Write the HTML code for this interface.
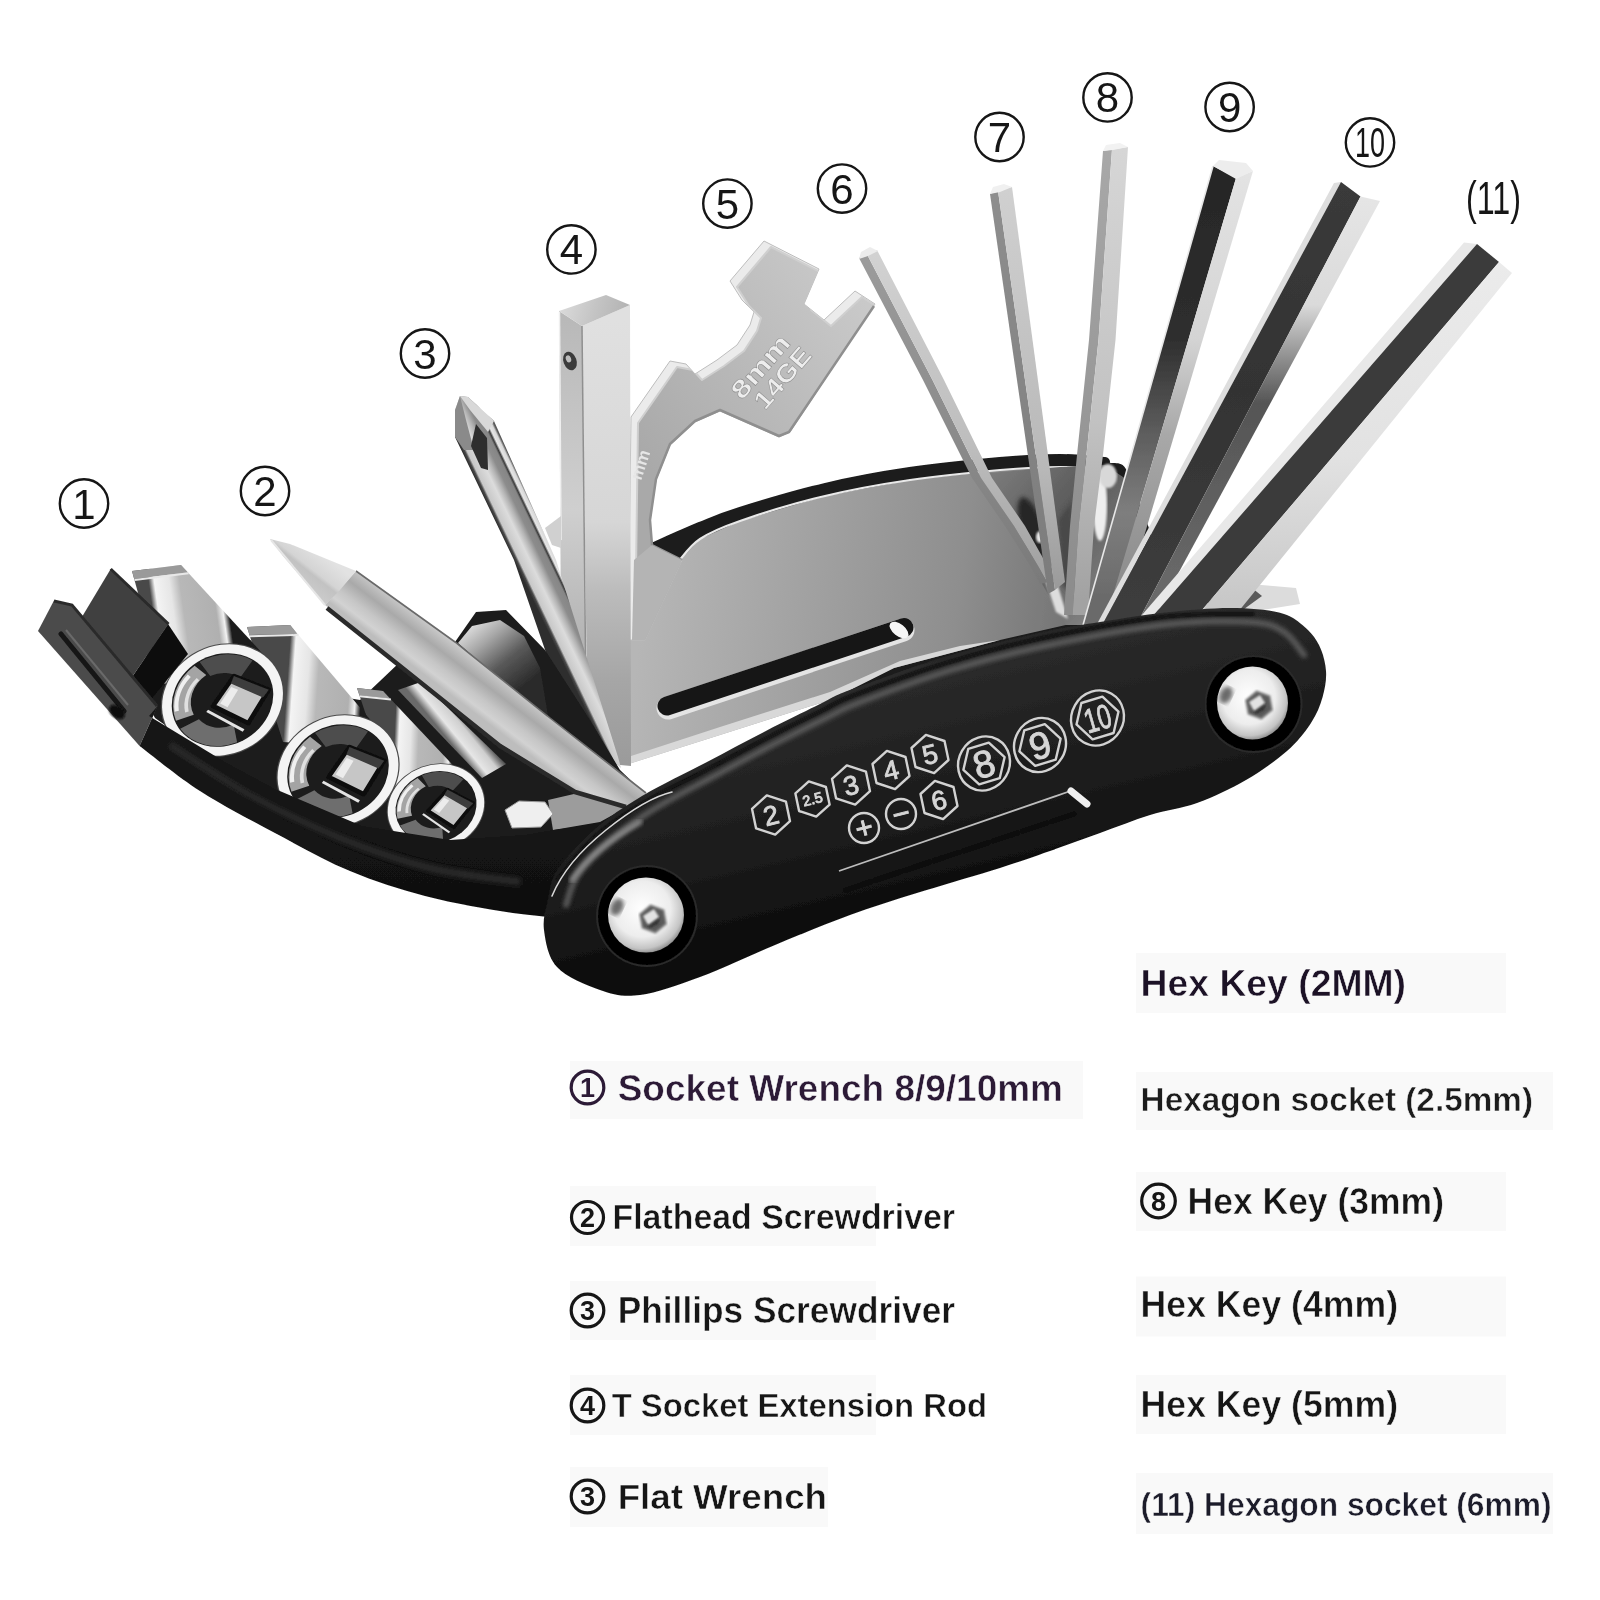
<!DOCTYPE html>
<html><head><meta charset="utf-8"><title>Multi tool</title>
<style>html,body{margin:0;padding:0;background:#fff}svg{display:block}</style></head>
<body>
<svg width="1600" height="1600" viewBox="0 0 1600 1600">
<defs>
<filter id="b1" x="-5%" y="-5%" width="110%" height="110%"><feGaussianBlur stdDeviation="1"/></filter>
<filter id="b2" x="-5%" y="-5%" width="110%" height="110%"><feGaussianBlur stdDeviation="2"/></filter>
<filter id="soft" x="-2%" y="-2%" width="104%" height="104%"><feGaussianBlur stdDeviation="0.7"/></filter>
<linearGradient id="gPlate" gradientUnits="userSpaceOnUse" x1="650.0" y1="560.0" x2="1090.0" y2="620.0"><stop offset="0" stop-color="#b6b6b6"/><stop offset="0.35" stop-color="#a2a2a2"/><stop offset="0.7" stop-color="#8e8e8e"/><stop offset="1" stop-color="#707070"/></linearGradient>
<linearGradient id="gInt" gradientUnits="userSpaceOnUse" x1="990.0" y1="480.0" x2="1130.0" y2="600.0"><stop offset="0" stop-color="#7a7a7a"/><stop offset="0.4" stop-color="#5c5c5c"/><stop offset="0.7" stop-color="#6e6e6e"/><stop offset="1" stop-color="#8a8a8a"/></linearGradient>
<linearGradient id="k6a" gradientUnits="userSpaceOnUse" x1="0.0" y1="250.0" x2="0.0" y2="580.0"><stop offset="0" stop-color="#9c9c9c"/><stop offset="0.6" stop-color="#8a8a8a"/><stop offset="1" stop-color="#7a7a7a"/></linearGradient>
<linearGradient id="k6b" gradientUnits="userSpaceOnUse" x1="0.0" y1="250.0" x2="0.0" y2="580.0"><stop offset="0" stop-color="#d2d2d2"/><stop offset="0.6" stop-color="#bdbdbd"/><stop offset="1" stop-color="#a0a0a0"/></linearGradient>
<linearGradient id="k7a" gradientUnits="userSpaceOnUse" x1="0.0" y1="190.0" x2="0.0" y2="590.0"><stop offset="0" stop-color="#8e8e8e"/><stop offset="1" stop-color="#7c7c7c"/></linearGradient>
<linearGradient id="k7b" gradientUnits="userSpaceOnUse" x1="0.0" y1="190.0" x2="0.0" y2="590.0"><stop offset="0" stop-color="#d0d0d0"/><stop offset="0.7" stop-color="#b8b8b8"/><stop offset="1" stop-color="#9a9a9a"/></linearGradient>
<linearGradient id="k8a" gradientUnits="userSpaceOnUse" x1="0.0" y1="150.0" x2="0.0" y2="600.0"><stop offset="0" stop-color="#a8a8a8"/><stop offset="1" stop-color="#8c8c8c"/></linearGradient>
<linearGradient id="k8b" gradientUnits="userSpaceOnUse" x1="0.0" y1="150.0" x2="0.0" y2="600.0"><stop offset="0" stop-color="#d6d6d6"/><stop offset="0.6" stop-color="#c2c2c2"/><stop offset="1" stop-color="#a2a2a2"/></linearGradient>
<linearGradient id="k9a" gradientUnits="userSpaceOnUse" x1="0.0" y1="165.0" x2="0.0" y2="600.0"><stop offset="0" stop-color="#262626"/><stop offset="0.4" stop-color="#2e2e2e"/><stop offset="0.62" stop-color="#5e5e5e"/><stop offset="0.8" stop-color="#7e7e7e"/><stop offset="1" stop-color="#6a6a6a"/></linearGradient>
<linearGradient id="k9b" gradientUnits="userSpaceOnUse" x1="0.0" y1="165.0" x2="0.0" y2="600.0"><stop offset="0" stop-color="#e4e4e4"/><stop offset="0.4" stop-color="#d4d4d4"/><stop offset="0.62" stop-color="#a8a8a8"/><stop offset="1" stop-color="#8a8a8a"/></linearGradient>
<linearGradient id="k10a" gradientUnits="userSpaceOnUse" x1="0.0" y1="183.0" x2="0.0" y2="600.0"><stop offset="0" stop-color="#3a3a3a"/><stop offset="0.5" stop-color="#333"/><stop offset="1" stop-color="#3c3c3c"/></linearGradient>
<linearGradient id="k10b" gradientUnits="userSpaceOnUse" x1="0.0" y1="190.0" x2="0.0" y2="600.0"><stop offset="0" stop-color="#e6e6e6"/><stop offset="0.28" stop-color="#dadada"/><stop offset="0.42" stop-color="#8a8a8a"/><stop offset="0.52" stop-color="#555"/><stop offset="1" stop-color="#6a6a6a"/></linearGradient>
<linearGradient id="k11b" gradientUnits="userSpaceOnUse" x1="0.0" y1="242.0" x2="0.0" y2="600.0"><stop offset="0" stop-color="#ececec"/><stop offset="0.6" stop-color="#e2e2e2"/><stop offset="1" stop-color="#c8c8c8"/></linearGradient>
<linearGradient id="gWr" gradientUnits="userSpaceOnUse" x1="640.0" y1="460.0" x2="860.0" y2="300.0"><stop offset="0" stop-color="#a9a9a9"/><stop offset="0.5" stop-color="#b9b9b9"/><stop offset="1" stop-color="#c9c9c9"/></linearGradient>
<clipPath id="cWr"><polygon points="631.0,417.0 670.0,361.0 686.0,364.0 695.0,374.0 717.0,360.0 737.0,345.0 750.0,325.0 754.0,312.0 742.0,300.0 730.0,281.0 764.0,241.0 819.0,269.0 804.0,304.0 824.0,320.0 855.0,291.0 875.0,304.0 790.0,432.0 779.0,437.0 720.0,411.0 695.0,422.0 670.0,445.0 656.0,480.0 650.0,520.0 652.0,545.0 682.0,560.0 645.0,640.0 628.0,640.0"/></clipPath>
<linearGradient id="gRodF" gradientUnits="userSpaceOnUse" x1="0.0" y1="320.0" x2="0.0" y2="770.0"><stop offset="0" stop-color="#e0e0e0"/><stop offset="0.45" stop-color="#d6d6d6"/><stop offset="0.6" stop-color="#bcbcbc"/><stop offset="0.8" stop-color="#a6a6a6"/><stop offset="1" stop-color="#9a9a9a"/></linearGradient>
<linearGradient id="gRodL" gradientUnits="userSpaceOnUse" x1="0.0" y1="320.0" x2="0.0" y2="700.0"><stop offset="0" stop-color="#b9b9b9"/><stop offset="0.5" stop-color="#cfcfcf"/><stop offset="1" stop-color="#a8a8a8"/></linearGradient>
<linearGradient id="gRodT" gradientUnits="userSpaceOnUse" x1="560.0" y1="300.0" x2="630.0" y2="320.0"><stop offset="0" stop-color="#dcdcdc"/><stop offset="0.5" stop-color="#c4c4c4"/><stop offset="1" stop-color="#b0b0b0"/></linearGradient>
<linearGradient id="gPh" gradientUnits="userSpaceOnUse" x1="514.0" y1="560.0" x2="550.5" y2="542.6"><stop offset="0" stop-color="#2e2e2e"/><stop offset="0.06" stop-color="#4a4a4a"/><stop offset="0.11" stop-color="#c8c8c8"/><stop offset="0.35" stop-color="#dcdcdc"/><stop offset="0.5" stop-color="#b4b4b4"/><stop offset="0.62" stop-color="#8c8c8c"/><stop offset="0.77" stop-color="#868686"/><stop offset="0.82" stop-color="#3a3a3a"/><stop offset="0.87" stop-color="#e6e6e6"/><stop offset="0.95" stop-color="#d8d8d8"/><stop offset="1" stop-color="#5a5a5a"/></linearGradient>
<linearGradient id="gSp" gradientUnits="userSpaceOnUse" x1="470.0" y1="628.0" x2="520.0" y2="690.0"><stop offset="0" stop-color="#d9d9d9"/><stop offset="0.25" stop-color="#a8a8a8"/><stop offset="0.6" stop-color="#5a5a5a"/><stop offset="1" stop-color="#2a2a2a"/></linearGradient>
<linearGradient id="gR4" gradientUnits="userSpaceOnUse" x1="440.0" y1="730.0" x2="462.0" y2="712.0"><stop offset="0" stop-color="#6a6a6a"/><stop offset="0.3" stop-color="#e6e6e6"/><stop offset="0.7" stop-color="#cfcfcf"/><stop offset="1" stop-color="#555"/></linearGradient>
<linearGradient id="s3b" gradientUnits="userSpaceOnUse" x1="392.0" y1="792.0" x2="482.0" y2="796.0"><stop offset="0" stop-color="#4a4a4a"/><stop offset="0.05" stop-color="#f4f4f4"/><stop offset="0.18" stop-color="#e6e6e6"/><stop offset="0.27" stop-color="#b8b8b8"/><stop offset="0.55" stop-color="#b0b0b0"/><stop offset="0.61" stop-color="#f2f2f2"/><stop offset="0.66" stop-color="#1e1e1e"/><stop offset="0.9" stop-color="#1c1c1c"/><stop offset="0.95" stop-color="#8a8a8a"/><stop offset="1" stop-color="#3a3a3a"/></linearGradient>
<linearGradient id="s2b" gradientUnits="userSpaceOnUse" x1="283.0" y1="742.0" x2="396.0" y2="750.0"><stop offset="0" stop-color="#4a4a4a"/><stop offset="0.05" stop-color="#f4f4f4"/><stop offset="0.18" stop-color="#e6e6e6"/><stop offset="0.27" stop-color="#b8b8b8"/><stop offset="0.55" stop-color="#b0b0b0"/><stop offset="0.61" stop-color="#f2f2f2"/><stop offset="0.66" stop-color="#1e1e1e"/><stop offset="0.9" stop-color="#1c1c1c"/><stop offset="0.95" stop-color="#8a8a8a"/><stop offset="1" stop-color="#3a3a3a"/></linearGradient>
<linearGradient id="s1b" gradientUnits="userSpaceOnUse" x1="163.0" y1="684.0" x2="276.0" y2="668.0"><stop offset="0" stop-color="#4a4a4a"/><stop offset="0.05" stop-color="#f4f4f4"/><stop offset="0.18" stop-color="#e6e6e6"/><stop offset="0.27" stop-color="#b8b8b8"/><stop offset="0.55" stop-color="#b0b0b0"/><stop offset="0.61" stop-color="#f2f2f2"/><stop offset="0.66" stop-color="#1e1e1e"/><stop offset="0.9" stop-color="#1c1c1c"/><stop offset="0.95" stop-color="#8a8a8a"/><stop offset="1" stop-color="#3a3a3a"/></linearGradient>
<linearGradient id="gArm" gradientUnits="userSpaceOnUse" x1="0.0" y1="600.0" x2="0.0" y2="960.0"><stop offset="0" stop-color="#1c1c1c"/><stop offset="0.5" stop-color="#151515"/><stop offset="1" stop-color="#0e0e0e"/></linearGradient>
<linearGradient id="gFl" gradientUnits="userSpaceOnUse" x1="468.0" y1="708.0" x2="500.0" y2="666.0"><stop offset="0" stop-color="#bdbdbd"/><stop offset="0.12" stop-color="#d2d2d2"/><stop offset="0.3" stop-color="#c6c6c6"/><stop offset="0.55" stop-color="#a9a9a9"/><stop offset="0.8" stop-color="#c6c6c6"/><stop offset="0.93" stop-color="#dadada"/><stop offset="1" stop-color="#b0b0b0"/></linearGradient>
<linearGradient id="gFt" gradientUnits="userSpaceOnUse" x1="330.0" y1="560.0" x2="305.0" y2="592.0"><stop offset="0" stop-color="#e2e2e2"/><stop offset="0.45" stop-color="#d4d4d4"/><stop offset="0.55" stop-color="#c2c2c2"/><stop offset="1" stop-color="#cdcdcd"/></linearGradient>
<linearGradient id="gFP" gradientUnits="userSpaceOnUse" x1="900.0" y1="640.0" x2="960.0" y2="900.0"><stop offset="0" stop-color="#0e0e0e"/><stop offset="0.12" stop-color="#2b2b2b"/><stop offset="0.3" stop-color="#262626"/><stop offset="0.7" stop-color="#1a1a1a"/><stop offset="1" stop-color="#0c0c0c"/></linearGradient>
<radialGradient id="sc1" cx="0.45" cy="0.42" r="0.62"><stop offset="0" stop-color="#ffffff"/><stop offset="0.6" stop-color="#ededed"/><stop offset="0.85" stop-color="#c4c4c4"/><stop offset="1" stop-color="#7a7a7a"/></radialGradient>
<radialGradient id="sc2" cx="0.45" cy="0.42" r="0.62"><stop offset="0" stop-color="#ffffff"/><stop offset="0.6" stop-color="#ededed"/><stop offset="0.85" stop-color="#c4c4c4"/><stop offset="1" stop-color="#7a7a7a"/></radialGradient>
</defs>
<rect width="1600" height="1600" fill="#ffffff"/>
<g filter="url(#soft)">
<g id="plates-keys"><path d="M652.0,548.0 C663.7,535.8 685.3,533.0 700.0,527.0 C714.7,521.0 719.2,518.5 740.0,512.0 C760.8,505.5 796.7,494.7 825.0,488.0 C853.3,481.3 880.8,476.3 910.0,472.0 C939.2,467.7 975.0,464.2 1000.0,462.0 C1025.0,459.8 1042.5,459.0 1060.0,459.0 C1077.5,459.0 1093.3,458.5 1105.0,462.0 C1116.7,465.5 1124.2,457.0 1130.0,480.0 C1135.8,503.0 1178.3,566.7 1140.0,600.0 C1101.7,633.3 973.3,660.0 900.0,680.0 C826.7,700.0 743.3,716.7 700.0,720.0 C656.7,723.3 651.7,720.0 640.0,700.0 C628.3,680.0 628.0,625.3 630.0,600.0 C632.0,574.7 640.3,560.2 652.0,548.0Z" fill="#1b1b1b"/>
<path d="M652.0,548.0 C660.0,544.5 685.3,533.0 700.0,527.0 C714.7,521.0 719.2,518.5 740.0,512.0 C760.8,505.5 796.7,494.7 825.0,488.0 C853.3,481.3 880.8,476.3 910.0,472.0 C939.2,467.7 975.0,464.2 1000.0,462.0 C1025.0,459.8 1042.5,459.0 1060.0,459.0 C1077.5,459.0 1097.5,461.5 1105.0,462.0" fill="none" stroke="#1b1b1b" stroke-width="10" stroke-linecap="round"/>
<path d="M678.0,562.0 L700.0,539.0 L740.0,521.0 L825.0,496.0 L910.0,480.0 L1000.0,470.0 L1060.0,467.0 L1100.0,470.0 L1120.0,520.0 L1110.0,615.0 L1000.0,640.0 L894.0,668.0 L830.0,700.0 L720.0,735.0 L627.0,764.5 L610.0,740.0 L630.0,640.0Z" fill="url(#gPlate)"/>
<path d="M678.0,562.0 C681.7,558.2 689.7,545.8 700.0,539.0 C710.3,532.2 719.2,528.2 740.0,521.0 C760.8,513.8 796.7,502.8 825.0,496.0 C853.3,489.2 880.8,484.3 910.0,480.0 C939.2,475.7 975.0,472.2 1000.0,470.0 C1025.0,467.8 1043.3,467.0 1060.0,467.0 C1076.7,467.0 1093.3,469.5 1100.0,470.0" fill="none" stroke="#e9e9e9" stroke-width="2.2"/>
<polygon points="627.0,764.5 628.0,757.0 720.0,727.0 830.0,692.0 900.0,661.0 960.0,646.0 1000.0,640.0 894.0,668.0 830.0,700.0 720.0,735.0" fill="#d8d8d8" />
<line x1="668" y1="708" x2="903" y2="630" stroke="#e4e4e4" stroke-width="23" stroke-linecap="round"/>
<line x1="667" y1="706" x2="904" y2="627.5" stroke="#141414" stroke-width="19" stroke-linecap="round"/>
<ellipse cx="899" cy="630" rx="11" ry="6" fill="#f6f6f6" transform="rotate(38 899 630)"/>
<polygon points="978.0,474.0 1060.0,467.0 1105.0,465.0 1135.0,485.0 1140.0,625.0 1066.0,625.0" fill="url(#gInt)" />
<ellipse cx="1032" cy="528" rx="11" ry="32" fill="#262626" transform="rotate(-18 1032 528)" filter="url(#b2)"/>
<ellipse cx="1040" cy="537" rx="4" ry="6" fill="#e8e8e8" filter="url(#b1)"/>
<polygon points="1058.0,520.0 1072.0,500.0 1076.0,600.0 1062.0,585.0" fill="#4a4a4a" filter="url(#b2)"/>
<ellipse cx="1100" cy="505" rx="7" ry="36" fill="#eeeeee" filter="url(#b1)"/>
<ellipse cx="1108" cy="476" rx="9" ry="12" fill="#d8d8d8" filter="url(#b1)"/>
<polygon points="1040.0,565.0 1052.0,566.0 1068.0,619.0 1056.0,612.0" fill="#dddddd" filter="url(#b1)"/>
<polygon points="1205.0,600.0 1250.0,584.0 1296.0,588.0 1300.0,604.0 1250.0,612.0" fill="#dcdcdc" />
<polygon points="1205.0,602.0 1247.0,584.0 1262.0,596.0 1240.0,612.0" fill="#5a5a5a" />
<polygon points="859.0,258.0 923.0,380.0 972.0,478.0 1005.0,526.0 1031.0,567.0 1040.0,584.0 1047.7,582.2 1038.7,567.0 1014.0,526.0 981.0,478.0 932.5,380.0 867.1,254.4" fill="url(#k6a)" /><polygon points="867.1,254.4 932.5,380.0 981.0,478.0 1014.0,526.0 1038.7,567.0 1047.7,582.2 1057.0,580.0 1048.0,567.0 1025.0,526.0 992.0,478.0 944.0,380.0 877.0,250.0" fill="url(#k6b)" />
<polygon points="859.0,259.0 861.0,252.0 870.0,247.0 878.0,251.0 868.0,256.0" fill="#ececec" />
<polygon points="990.0,194.0 1048.0,594.0 1055.0,590.0 998.0,191.0" fill="url(#k7a)" /><polygon points="998.0,191.0 1055.0,590.0 1065.0,582.0 1012.0,187.0" fill="url(#k7b)" />
<polygon points="990.0,194.0 993.0,187.0 1004.0,184.0 1012.0,187.0 1000.0,192.0" fill="#f0f0f0" />
<polygon points="1103.0,151.0 1089.0,340.0 1077.0,455.0 1070.0,526.0 1064.0,615.0 1072.6,615.0 1078.6,526.0 1086.4,455.0 1098.5,340.0 1112.0,149.6" fill="url(#k8a)" /><polygon points="1112.0,149.6 1098.5,340.0 1086.4,455.0 1078.6,526.0 1072.6,615.0 1088.0,615.0 1094.0,526.0 1103.0,455.0 1115.5,340.0 1128.0,147.0" fill="url(#k8b)" />
<polygon points="1103.0,151.0 1106.0,145.0 1120.0,143.0 1128.0,147.0 1113.0,150.0" fill="#f2f2f2" />
<polygon points="1213.0,166.0 1083.0,625.0 1104.3,625.0 1236.0,178.0" fill="url(#k9a)" /><polygon points="1236.0,178.0 1104.3,625.0 1117.6,625.0 1253.0,171.0" fill="url(#k9b)" />
<polygon points="1213.0,166.0 1219.0,160.0 1246.0,163.0 1253.0,171.0 1236.0,179.0" fill="#ededed" />
<polyline points="1213.0,166.0 1083.0,625.0" fill="none" stroke="#e8e8e8" stroke-width="1.6"/>
<polygon points="1334.0,183.0 1096.5,625.0 1102.2,625.0 1341.0,182.0" fill="#dedede" /><polygon points="1341.0,182.0 1102.2,625.0 1136.3,625.0 1360.5,196.5" fill="url(#k10a)" /><polygon points="1360.5,196.5 1136.3,625.0 1150.3,625.0 1380.0,201.0" fill="url(#k10b)" />
<polygon points="1464.0,242.5 1133.3,625.0 1145.1,625.0 1477.0,244.0" fill="#e8e8e8" /><polygon points="1477.0,244.0 1145.1,625.0 1189.2,625.0 1499.0,262.0" fill="#3b3b3b" /><polygon points="1499.0,262.0 1189.2,625.0 1227.6,625.0 1512.0,273.0" fill="url(#k11b)" /></g>
<g id="tools"><polygon points="631.0,417.0 670.0,361.0 686.0,364.0 695.0,374.0 717.0,360.0 737.0,345.0 750.0,325.0 754.0,312.0 742.0,300.0 730.0,281.0 764.0,241.0 819.0,269.0 804.0,304.0 824.0,320.0 855.0,291.0 875.0,304.0 790.0,432.0 779.0,437.0 720.0,411.0 695.0,422.0 670.0,445.0 656.0,480.0 650.0,520.0 652.0,545.0 682.0,560.0 645.0,640.0 628.0,640.0" fill="#ebebeb" stroke="#bdbdbd" stroke-width="1" stroke-linejoin="round"/>
<g clip-path="url(#cWr)"><polygon points="631.0,417.0 670.0,361.0 686.0,364.0 695.0,374.0 717.0,360.0 737.0,345.0 750.0,325.0 754.0,312.0 742.0,300.0 730.0,281.0 764.0,241.0 819.0,269.0 804.0,304.0 824.0,320.0 855.0,291.0 875.0,304.0 790.0,432.0 779.0,437.0 720.0,411.0 695.0,422.0 670.0,445.0 656.0,480.0 650.0,520.0 652.0,545.0 682.0,560.0 645.0,640.0 628.0,640.0" fill="url(#gWr)" stroke="#cfcfcf" stroke-width="2" stroke-linejoin="round" transform="translate(7,6)"/></g>
<polyline points="874.0,306.0 789.0,432.0 779.0,436.0 720.0,410.0 695.0,421.0 670.0,444.0 656.0,479.0 650.0,520.0 652.0,545.0 682.0,560.0" fill="none" stroke="#8f8f8f" stroke-width="2.5" stroke-linejoin="round"/>
<polygon points="652.0,545.0 682.0,560.0 645.0,640.0 632.0,640.0 634.0,560.0" fill="#b4b4b4" />
<g font-family="'Liberation Sans',sans-serif" font-weight="bold" fill="#ededed" stroke="#8a8a8a" stroke-width="0.5"><text transform="translate(742,401) rotate(-49)" font-size="25" textLength="76" lengthAdjust="spacingAndGlyphs">8mm</text><text transform="translate(765,411) rotate(-49)" font-size="25" textLength="73" lengthAdjust="spacingAndGlyphs">14GE</text><text transform="translate(641,481) rotate(-72)" font-size="17" fill="#e6e6e6" stroke="none">mm</text></g>
<polygon points="559.0,311.0 582.0,326.0 586.0,720.0 561.0,640.0" fill="url(#gRodL)" />
<polygon points="582.0,326.0 630.0,305.0 631.0,766.0 588.0,762.0" fill="url(#gRodF)" />
<polygon points="559.0,311.0 606.0,295.0 630.0,305.0 582.0,326.0" fill="url(#gRodT)" />
<line x1="582" y1="326" x2="586" y2="700" stroke="#8f8f8f" stroke-width="1.5"/>
<line x1="559.5" y1="312" x2="561" y2="540" stroke="#efefef" stroke-width="1.5"/>
<ellipse cx="570" cy="361" rx="6.5" ry="9.5" fill="#3a3a3a" transform="rotate(-20 570 361)"/>
<ellipse cx="568.5" cy="359" rx="2.6" ry="3.6" fill="#bdbdbd" transform="rotate(-20 568 359)"/>
<polygon points="545.0,528.0 561.0,516.0 561.0,548.0 552.0,545.0" fill="#d0d0d0" />
<polygon points="460.0,396.0 468.0,397.0 494.0,421.0 556.0,560.0 618.0,757.0 621.0,768.0 571.0,725.0 514.0,560.0 455.0,437.0 455.0,410.0" fill="url(#gPh)" />
<polygon points="455.0,410.0 460.0,396.0 466.0,420.0 474.0,450.0 464.0,450.0 455.0,437.0" fill="#8a8a8a" />
<polygon points="460.0,396.0 468.0,397.0 494.0,421.0 488.0,432.0 470.0,410.0" fill="#d8d8d8" />
<polygon points="476.0,424.0 487.0,438.0 488.0,470.0 481.0,468.0 471.0,446.0" fill="#2e2e2e" /></g>
<g id="arm"><polygon points="135.0,680.0 165.0,617.0 250.0,640.0 300.0,690.0 360.0,700.0 400.0,662.0 500.0,742.0 575.0,790.0 627.0,806.0 645.0,800.0 600.0,832.0 450.0,846.0 362.0,832.0 275.0,794.0 225.0,767.0 155.0,718.0" fill="#1d1d1d" />
<polygon points="455.0,642.0 476.0,612.0 506.0,610.0 545.0,650.0 590.0,720.0 620.0,770.0 643.0,792.0 550.0,718.0" fill="#1c1c1c" />
<polygon points="458.0,643.0 472.0,626.0 500.0,620.0 524.0,636.0 540.0,668.0 548.0,716.0 500.0,680.0" fill="url(#gSp)" />
<polygon points="548.0,800.0 600.0,788.0 640.0,796.0 604.0,824.0 553.0,830.0" fill="#9c9c9c" />
<polygon points="398.0,690.0 421.0,682.0 506.0,764.0 482.0,778.0" fill="url(#gR4)" />
<polygon points="357.0,688.0 383.0,691.0 482.0,796.0 392.0,792.0" fill="url(#s3b)" /><polygon points="357.0,688.0 383.0,691.0 389.9,698.4 359.4,695.3" fill="#9a9a9a" /><line x1="359.8" y1="696.3" x2="390.9" y2="699.4" stroke="#e8e8e8" stroke-width="2"/><g transform="translate(436,807) rotate(-20) scale(49,42)"><circle r="1.02" fill="#4a4a4a"/><circle r="1" fill="#f4f4f4"/><circle r="0.84" fill="#1c1c1c"/><path d="M-0.82,-0.05 A0.83,0.83 0 0 1 -0.15,-0.8 L-0.05,-0.55 A0.55,0.55 0 0 0 -0.52,0.0Z" fill="#a4a4a4"/><path d="M-0.74,-0.2 A0.76,0.76 0 0 1 -0.3,-0.68" fill="none" stroke="#f0f0f0" stroke-width="0.07"/><path d="M-0.6,-0.1 A0.62,0.62 0 0 1 -0.2,-0.55" fill="none" stroke="#e0e0e0" stroke-width="0.06"/><path d="M-0.82,0.12 A0.83,0.83 0 0 0 -0.1,0.82 L-0.02,0.5 A0.5,0.5 0 0 1 -0.48,0.12Z" fill="#6e6e6e"/><path d="M-0.05,-0.82 A0.83,0.83 0 0 1 0.72,-0.4 L0.42,-0.22 A0.5,0.5 0 0 0 0,-0.5Z" fill="#4e4e4e"/><polygon points="-0.18,0.02 0.34,-0.3 0.74,0.22 0.2,0.6" fill="#c6c6c6" stroke="#0e0e0e" stroke-width="0.08" stroke-linejoin="round"/><polygon points="0.34,-0.3 0.74,0.22 0.6,0.3 0.24,-0.2" fill="#3c3c3c"/><polygon points="-0.06,0.04 0.22,-0.14 0.3,-0.04 0.02,0.16" fill="#ececec"/><line x1="-0.3" y1="0.05" x2="0.08" y2="0.68" stroke="#e4e4e4" stroke-width="0.05"/></g>
<polygon points="247.0,627.0 290.0,625.0 396.0,750.0 283.0,742.0" fill="url(#s2b)" /><polygon points="247.0,627.0 290.0,625.0 297.4,633.8 249.5,635.0" fill="#9a9a9a" /><line x1="249.9" y1="636.2" x2="298.5" y2="635.0" stroke="#e8e8e8" stroke-width="2"/><g transform="translate(338,771) rotate(-27) scale(62,54)"><circle r="1.02" fill="#4a4a4a"/><circle r="1" fill="#f4f4f4"/><circle r="0.84" fill="#1c1c1c"/><path d="M-0.82,-0.05 A0.83,0.83 0 0 1 -0.15,-0.8 L-0.05,-0.55 A0.55,0.55 0 0 0 -0.52,0.0Z" fill="#a4a4a4"/><path d="M-0.74,-0.2 A0.76,0.76 0 0 1 -0.3,-0.68" fill="none" stroke="#f0f0f0" stroke-width="0.07"/><path d="M-0.6,-0.1 A0.62,0.62 0 0 1 -0.2,-0.55" fill="none" stroke="#e0e0e0" stroke-width="0.06"/><path d="M-0.82,0.12 A0.83,0.83 0 0 0 -0.1,0.82 L-0.02,0.5 A0.5,0.5 0 0 1 -0.48,0.12Z" fill="#6e6e6e"/><path d="M-0.05,-0.82 A0.83,0.83 0 0 1 0.72,-0.4 L0.42,-0.22 A0.5,0.5 0 0 0 0,-0.5Z" fill="#4e4e4e"/><polygon points="-0.18,0.02 0.34,-0.3 0.74,0.22 0.2,0.6" fill="#c6c6c6" stroke="#0e0e0e" stroke-width="0.08" stroke-linejoin="round"/><polygon points="0.34,-0.3 0.74,0.22 0.6,0.3 0.24,-0.2" fill="#3c3c3c"/><polygon points="-0.06,0.04 0.22,-0.14 0.3,-0.04 0.02,0.16" fill="#ececec"/><line x1="-0.3" y1="0.05" x2="0.08" y2="0.68" stroke="#e4e4e4" stroke-width="0.05"/></g>
<polygon points="132.0,571.0 181.0,565.0 276.0,668.0 163.0,684.0" fill="url(#s1b)" /><polygon points="132.0,571.0 181.0,565.0 187.7,572.2 134.2,578.9" fill="#9a9a9a" /><line x1="134.5" y1="580.0" x2="188.6" y2="573.2" stroke="#e8e8e8" stroke-width="2"/><g transform="translate(222.5,700) rotate(-27) scale(62,54)"><circle r="1.02" fill="#4a4a4a"/><circle r="1" fill="#f4f4f4"/><circle r="0.84" fill="#1c1c1c"/><path d="M-0.82,-0.05 A0.83,0.83 0 0 1 -0.15,-0.8 L-0.05,-0.55 A0.55,0.55 0 0 0 -0.52,0.0Z" fill="#a4a4a4"/><path d="M-0.74,-0.2 A0.76,0.76 0 0 1 -0.3,-0.68" fill="none" stroke="#f0f0f0" stroke-width="0.07"/><path d="M-0.6,-0.1 A0.62,0.62 0 0 1 -0.2,-0.55" fill="none" stroke="#e0e0e0" stroke-width="0.06"/><path d="M-0.82,0.12 A0.83,0.83 0 0 0 -0.1,0.82 L-0.02,0.5 A0.5,0.5 0 0 1 -0.48,0.12Z" fill="#6e6e6e"/><path d="M-0.05,-0.82 A0.83,0.83 0 0 1 0.72,-0.4 L0.42,-0.22 A0.5,0.5 0 0 0 0,-0.5Z" fill="#4e4e4e"/><polygon points="-0.18,0.02 0.34,-0.3 0.74,0.22 0.2,0.6" fill="#c6c6c6" stroke="#0e0e0e" stroke-width="0.08" stroke-linejoin="round"/><polygon points="0.34,-0.3 0.74,0.22 0.6,0.3 0.24,-0.2" fill="#3c3c3c"/><polygon points="-0.06,0.04 0.22,-0.14 0.3,-0.04 0.02,0.16" fill="#ececec"/><line x1="-0.3" y1="0.05" x2="0.08" y2="0.68" stroke="#e4e4e4" stroke-width="0.05"/></g>
<polygon points="505.0,810.0 519.0,801.0 545.0,802.0 553.0,814.0 541.0,827.0 512.0,828.0" fill="#efefef" stroke="#9a9a9a" stroke-width="1"/>
<polygon points="168.0,624.0 188.0,654.0 146.0,706.0 130.0,680.0" fill="#0e0e0e" />
<polygon points="110.7,569.0 168.5,624.0 130.0,680.0 77.7,624.0" fill="#414141" />
<polyline points="110.7,569.0 168.5,624.0" fill="none" stroke="#2a2a2a" stroke-width="3"/>
<polygon points="54.0,600.5 72.0,604.6 157.5,706.0 139.6,746.0 38.0,631.0" fill="#4c4c4c" />
<polyline points="61.0,634.0 124.0,711.0" fill="none" stroke="#171717" stroke-width="5" stroke-linecap="round"/>
<polyline points="66.0,630.0 128.0,705.0" fill="none" stroke="#6a6a6a" stroke-width="2"/>
<polyline points="54.0,601.0 72.0,605.0 157.0,706.0" fill="none" stroke="#2c2c2c" stroke-width="3"/>
<ellipse cx="117" cy="712" rx="9" ry="6" fill="#0c0c0c" transform="rotate(40 117 712)" filter="url(#b1)"/>
<path d="M149.0,716.0 L225.0,762.0 L275.0,789.0 L362.0,826.0 L450.0,840.0 L525.0,835.0 L600.0,822.0 L640.0,800.0 L640,960 L640.0,960.0 C633.3,955.0 613.3,936.8 600.0,930.0 C586.7,923.2 576.7,922.2 560.0,919.0 C543.3,915.8 522.5,914.8 500.0,911.0 C477.5,907.2 450.0,902.7 425.0,896.0 C400.0,889.3 375.0,881.5 350.0,871.0 C325.0,860.5 300.0,846.3 275.0,833.0 C250.0,819.7 222.6,805.5 200.0,791.0 C177.4,776.5 149.7,753.5 139.6,746.0 L157.5,706 L149,716Z" fill="url(#gArm)"/>
<path d="M170.0,745.0 C183.3,753.3 221.7,779.5 250.0,795.0 C278.3,810.5 310.0,825.8 340.0,838.0 C370.0,850.2 400.0,860.7 430.0,868.0 C460.0,875.3 505.0,879.7 520.0,882.0" fill="none" stroke="#2c2c2c" stroke-width="7" filter="url(#b2)"/>
<polygon points="356.0,571.0 455.0,642.0 550.0,718.0 646.0,793.0 640.0,802.0 628.0,807.0 575.0,790.0 500.0,744.0 400.0,664.0 325.0,605.0" fill="url(#gFl)" />
<polyline points="327.0,608.0 400.0,666.0 500.0,746.0 575.0,792.0 626.0,807.0" fill="none" stroke="#2a2a2a" stroke-width="4.5" stroke-linejoin="round"/>
<polyline points="356.0,571.0 455.0,642.0 550.0,718.0 646.0,793.0" fill="none" stroke="#6a6a6a" stroke-width="1.6"/>
<polygon points="270.0,539.0 290.0,544.0 356.0,571.0 340.0,590.0 325.0,605.0 283.0,556.0" fill="url(#gFt)" />
<line x1="271" y1="540" x2="325" y2="605" stroke="#e6e6e6" stroke-width="2"/></g>
<g id="front"><path d="M544.0,930.0 C542.5,918.8 545.7,910.2 548.0,900.0 C550.3,889.8 550.2,880.8 558.0,869.0 C565.8,857.2 581.0,841.2 595.0,829.0 C609.0,816.8 623.3,807.2 642.0,796.0 C660.7,784.8 686.7,772.7 707.0,762.0 C727.3,751.3 745.2,741.7 764.0,732.0 C782.8,722.3 805.7,711.0 820.0,704.0 C834.3,697.0 829.3,697.8 850.0,690.0 C870.7,682.2 912.8,666.5 944.0,657.0 C975.2,647.5 1011.0,638.8 1037.0,633.0 C1063.0,627.2 1078.7,625.4 1100.0,622.0 C1121.3,618.6 1143.3,614.8 1165.0,612.5 C1186.7,610.2 1211.0,608.0 1230.0,608.0 C1249.0,608.0 1266.8,609.6 1279.0,612.5 C1291.2,615.4 1296.3,620.1 1303.0,625.5 C1309.7,630.9 1315.2,637.4 1319.0,645.0 C1322.8,652.6 1325.4,662.3 1326.0,671.0 C1326.6,679.7 1325.1,688.3 1322.6,697.0 C1320.1,705.7 1316.9,714.0 1311.0,723.0 C1305.1,732.0 1297.8,741.5 1287.0,751.0 C1276.2,760.5 1261.0,771.3 1246.0,780.0 C1231.0,788.7 1213.0,797.2 1197.0,803.0 C1181.0,808.8 1166.2,810.0 1150.0,815.0 C1133.8,820.0 1116.7,827.0 1100.0,833.0 C1083.3,839.0 1066.7,845.2 1050.0,851.0 C1033.3,856.8 1020.8,861.4 1000.0,868.0 C979.2,874.6 950.0,882.8 925.0,890.6 C900.0,898.4 875.0,905.9 850.0,915.0 C825.0,924.1 800.0,934.7 775.0,945.0 C750.0,955.3 722.5,968.7 700.0,977.0 C677.5,985.3 656.7,992.8 640.0,995.0 C623.3,997.2 613.8,994.7 600.0,990.0 C586.2,985.3 566.3,977.0 557.0,967.0 C547.7,957.0 545.5,941.2 544.0,930.0Z" fill="url(#gFP)"/>
<path d="M566.0,905.0 C568.0,899.8 571.0,884.5 578.0,874.0 C585.0,863.5 595.3,852.8 608.0,842.0 C620.7,831.2 636.0,820.2 654.0,809.0 C672.0,797.8 696.3,785.7 716.0,775.0 C735.7,764.3 753.3,754.7 772.0,745.0 C790.7,735.3 813.7,724.0 828.0,717.0 C842.3,710.0 838.0,710.7 858.0,703.0 C878.0,695.3 917.7,680.3 948.0,671.0 C978.3,661.7 1004.3,654.7 1040.0,647.0 C1075.7,639.3 1127.0,629.2 1162.0,625.0 C1197.0,620.8 1229.7,620.8 1250.0,622.0 C1270.3,623.2 1275.0,626.5 1284.0,632.0 C1293.0,637.5 1300.7,651.2 1304.0,655.0" fill="none" stroke="#5a5a5a" stroke-width="6" stroke-linecap="round" filter="url(#b2)"/>
<path d="M557.0,880.0 C563.5,872.7 581.3,849.0 596.0,836.0 C610.7,823.0 626.0,813.3 645.0,802.0 C664.0,790.7 689.7,778.7 710.0,768.0 C730.3,757.3 748.2,747.7 767.0,738.0 C785.8,728.3 808.8,717.0 823.0,710.0 C837.2,703.0 831.5,703.8 852.0,696.0 C872.5,688.2 915.0,672.5 946.0,663.0 C977.0,653.5 1002.0,646.7 1038.0,639.0 C1074.0,631.3 1126.0,621.2 1162.0,617.0 C1198.0,612.8 1238.7,614.5 1254.0,614.0" fill="none" stroke="#0a0a0a" stroke-width="3" filter="url(#b1)"/>
<path d="M572,880 Q592,850 640,822" fill="none" stroke="#8a8a8a" stroke-width="5" stroke-linecap="round" filter="url(#b2)"/>
<path d="M552,896 Q566,862 606,830 T672,792" fill="none" stroke="#d8d8d8" stroke-width="1.6" stroke-linecap="round"/>
<line x1="846" y1="890" x2="1074" y2="814" stroke="#090909" stroke-width="5" stroke-linecap="round" stroke-dasharray="26 5"/>
<line x1="839" y1="871" x2="1069" y2="791.5" stroke="#bdbdbd" stroke-width="1.8"/>
<line x1="1071" y1="791" x2="1087" y2="804" stroke="#f0f0f0" stroke-width="7" stroke-linecap="round"/>
<g fill="none" stroke="#d2d2d2" stroke-width="2.4" stroke-linejoin="round"><polygon points="766.8,795.4 785.9,801.6 790.0,821.2 775.2,834.6 756.1,828.4 752.0,808.8"/><polygon points="808.8,781.4 825.9,787.0 829.6,804.6 816.2,816.6 799.1,811.0 795.4,793.4"/><polygon points="846.8,765.4 865.9,771.6 870.0,791.2 855.2,804.6 836.1,798.4 832.0,778.8"/><polygon points="886.9,750.9 905.5,757.0 909.5,776.0 895.1,789.1 876.5,783.0 872.5,764.0"/><polygon points="925.9,734.9 944.5,741.0 948.5,760.0 934.1,773.1 915.5,767.0 911.5,748.0"/><polygon points="934.9,780.9 953.5,787.0 957.5,806.0 943.1,819.1 924.5,813.0 920.5,794.0"/><circle cx="864" cy="828" r="15"/><circle cx="901" cy="814" r="15"/><ellipse cx="984" cy="763.5" rx="27.560000000000002" ry="25.439999999999998" transform="rotate(-60 984 763.5)"/><polygon points="1004.6,757.2 999.7,778.2 979.2,784.4 963.4,769.8 968.3,748.8 988.8,742.6"/><ellipse cx="1040" cy="745" rx="27.560000000000002" ry="25.439999999999998" transform="rotate(-60 1040 745)"/><polygon points="1060.6,738.7 1055.7,759.7 1035.2,765.9 1019.4,751.3 1024.3,730.3 1044.8,724.1"/><ellipse cx="1097.5" cy="718" rx="28.080000000000002" ry="25.919999999999998" transform="rotate(-60 1097.5 718)"/><polygon points="1118.5,711.6 1113.6,733.0 1092.6,739.4 1076.5,724.4 1081.4,703.0 1102.4,696.6"/></g>
<g font-family="'Liberation Sans',sans-serif" fill="#d6d6d6" stroke="#d6d6d6" stroke-width="0.9" text-anchor="middle"><text transform="translate(771,815) rotate(-14)" font-size="27" y="9.7">2</text><text transform="translate(812.5,799) rotate(-14)" font-size="14.5" y="5.2">2.5</text><text transform="translate(851,785) rotate(-14)" font-size="27" y="9.7">3</text><text transform="translate(891,770) rotate(-14)" font-size="27" y="9.7">4</text><text transform="translate(930,754) rotate(-14)" font-size="27" y="9.7">5</text><text transform="translate(939,800) rotate(-14)" font-size="27" y="9.7">6</text><text transform="translate(864,828) rotate(-14)" font-size="30" y="10">+</text><text transform="translate(901,814) rotate(-14)" font-size="30" y="10">−</text><text transform="translate(984,763.5) rotate(-16)" font-size="38" y="13.7">8</text><text transform="translate(1040,745) rotate(-16)" font-size="38" y="13.7">9</text><text transform="translate(1097.5,718) rotate(-16)" font-size="34" y="12.2" textLength="27" lengthAdjust="spacingAndGlyphs">10</text></g>
<circle cx="647" cy="916" r="51" fill="#2a2a2a"/><circle cx="647" cy="916" r="49" fill="#050505"/><ellipse cx="646" cy="915" rx="38" ry="37.5" fill="url(#sc1)"/><ellipse cx="617" cy="907" rx="6" ry="9" fill="#6a6a6a" filter="url(#b2)" transform="rotate(25 617 907)"/><polygon points="666.2,923.8 655.4,932.8 642.3,928.0 639.8,914.2 650.6,905.2 663.7,910.0" fill="#5a5a5a" stroke="#8a8a8a" stroke-width="1.5" filter="url(#b1)"/><polygon points="643.0,916.0 654.0,909.0 659.0,917.0 648.0,925.0" fill="#e2e2e2" filter="url(#b1)"/><polygon points="644.0,923.0 650.0,928.0 658.0,924.0 660.0,918.0 649.0,926.0" fill="#333" filter="url(#b1)"/>
<circle cx="1253.5" cy="704" r="49" fill="#2a2a2a"/><circle cx="1253.5" cy="704" r="47" fill="#050505"/><ellipse cx="1252.5" cy="703" rx="35.5" ry="36.5" fill="url(#sc2)"/><ellipse cx="1226.0" cy="695" rx="6" ry="9" fill="#6a6a6a" filter="url(#b2)" transform="rotate(25 1226.0 695)"/><polygon points="1272.2,709.8 1261.4,718.8 1248.3,714.0 1245.8,700.2 1256.6,691.2 1269.7,696.0" fill="#5a5a5a" stroke="#8a8a8a" stroke-width="1.5" filter="url(#b1)"/><polygon points="1249.0,702.0 1260.0,695.0 1265.0,703.0 1254.0,711.0" fill="#e2e2e2" filter="url(#b1)"/><polygon points="1250.0,709.0 1256.0,714.0 1264.0,710.0 1266.0,704.0 1255.0,712.0" fill="#333" filter="url(#b1)"/></g>
</g>
<g id="labels"><g fill="none" stroke="#161616" stroke-width="2.4"><circle cx="84" cy="503.5" r="24.2"/><circle cx="265" cy="491" r="24.2"/><circle cx="425" cy="353.5" r="24.2"/><circle cx="571.4" cy="249.4" r="24.2"/><circle cx="727.4" cy="203.6" r="24.2"/><circle cx="842" cy="188.6" r="24.2"/><circle cx="999.5" cy="137" r="24.2"/><circle cx="1107.5" cy="97.4" r="24.2"/><circle cx="1229.6" cy="107" r="24.2"/><circle cx="1370" cy="142.4" r="24.2"/></g>
<g font-family="'Liberation Sans',sans-serif" fill="#161616" text-anchor="middle" font-size="42"><text x="84" y="518.5">1</text><text x="265" y="506.0">2</text><text x="425" y="368.5">3</text><text x="571.4" y="264.4">4</text><text x="727.4" y="218.6">5</text><text x="842" y="203.6">6</text><text x="999.5" y="152.0">7</text><text x="1107.5" y="112.4">8</text><text x="1229.6" y="122.0">9</text><text x="1370" y="157.4" textLength="30" lengthAdjust="spacingAndGlyphs">10</text><text x="1493.5" y="214" font-size="46" textLength="55" lengthAdjust="spacingAndGlyphs">(11)</text></g>
<rect x="570" y="1061" width="513" height="58" fill="#f9f9f9"/>
<rect x="570" y="1186" width="306" height="60" fill="#f9f9f9"/>
<rect x="570" y="1281" width="306" height="59" fill="#f9f9f9"/>
<rect x="570" y="1375" width="306" height="60" fill="#f9f9f9"/>
<rect x="570" y="1467" width="258" height="60" fill="#f9f9f9"/>
<rect x="1136" y="953" width="370" height="60" fill="#f9f9f9"/>
<rect x="1136" y="1072" width="417" height="58" fill="#f9f9f9"/>
<rect x="1136" y="1172" width="370" height="59" fill="#f9f9f9"/>
<rect x="1136" y="1276.5" width="370" height="60" fill="#f9f9f9"/>
<rect x="1136" y="1375" width="370" height="59" fill="#f9f9f9"/>
<rect x="1136" y="1473" width="417" height="61" fill="#f9f9f9"/>
<g font-family="'Liberation Sans',sans-serif" font-weight="bold" stroke="#fbfbfb" stroke-width="0.5"><text x="617.7" y="1101" font-size="37.0" fill="#2c1a36" textLength="445.3" lengthAdjust="spacingAndGlyphs">Socket Wrench 8/9/10mm</text><circle cx="587.5" cy="1087.5" r="16.3" fill="none" stroke="#2c1a36" stroke-width="3.2"/><text x="587.5" y="1097.1" font-size="27" fill="#2c1a36" stroke="none" text-anchor="middle">1</text><text x="612.5" y="1229" font-size="34.2" fill="#161616" textLength="342.5" lengthAdjust="spacingAndGlyphs">Flathead Screwdriver</text><circle cx="587.5" cy="1217.5" r="16.0" fill="none" stroke="#161616" stroke-width="3.2"/><text x="587.5" y="1227.1" font-size="27" fill="#161616" stroke="none" text-anchor="middle">2</text><text x="617.7" y="1323" font-size="36.3" fill="#161616" textLength="337.3" lengthAdjust="spacingAndGlyphs">Phillips Screwdriver</text><circle cx="587.5" cy="1310.5" r="16.3" fill="none" stroke="#161616" stroke-width="3.2"/><text x="587.5" y="1320.1" font-size="27" fill="#161616" stroke="none" text-anchor="middle">3</text><text x="611.7" y="1417" font-size="33.5" fill="#161616" textLength="375.3" lengthAdjust="spacingAndGlyphs">T Socket Extension Rod</text><circle cx="587.5" cy="1405.5" r="16.3" fill="none" stroke="#161616" stroke-width="3.2"/><text x="587.5" y="1415.1" font-size="27" fill="#161616" stroke="none" text-anchor="middle">4</text><text x="617.7" y="1509" font-size="35.6" fill="#161616" textLength="209.3" lengthAdjust="spacingAndGlyphs">Flat Wrench</text><circle cx="587.5" cy="1496.5" r="16.3" fill="none" stroke="#161616" stroke-width="3.2"/><text x="587.5" y="1506.1" font-size="27" fill="#161616" stroke="none" text-anchor="middle">3</text><text x="1140.6" y="995.6" font-size="37.0" fill="#1c1226" textLength="265.4" lengthAdjust="spacingAndGlyphs">Hex Key (2MM)</text><text x="1140.6" y="1111" font-size="32.7" fill="#1c1c1c" textLength="392.4" lengthAdjust="spacingAndGlyphs">Hexagon socket (2.5mm)</text><text x="1187.5" y="1214" font-size="36.3" fill="#161616" textLength="256.5" lengthAdjust="spacingAndGlyphs">Hex Key (3mm)</text><circle cx="1158.5" cy="1201" r="16.8" fill="none" stroke="#161616" stroke-width="3.2"/><text x="1158.5" y="1210.6" font-size="27" fill="#161616" stroke="none" text-anchor="middle">8</text><text x="1140.6" y="1316.6" font-size="36.3" fill="#161616" textLength="257.4" lengthAdjust="spacingAndGlyphs">Hex Key (4mm)</text><text x="1140.6" y="1417" font-size="36.3" fill="#161616" textLength="257.4" lengthAdjust="spacingAndGlyphs">Hex Key (5mm)</text><text x="1140.6" y="1515.6" font-size="32.8" fill="#1c1c2a" textLength="410.9" lengthAdjust="spacingAndGlyphs">(11) Hexagon socket (6mm)</text></g></g>
</svg>
</body></html>
